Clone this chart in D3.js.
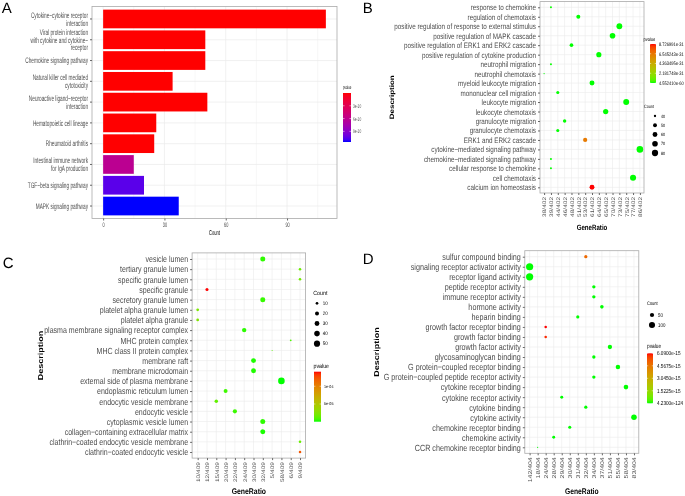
<!DOCTYPE html>
<html>
<head>
<meta charset="utf-8">
<script src="https://cdn.jsdelivr.net/npm/d3@7"></script>
<style>
  body { margin: 0; background: #fff; }
  svg { display: block; will-change: transform; }
  text { font-family: "Liberation Sans", Arial, sans-serif; text-rendering: geometricPrecision; }
</style>
</head>
<body>
<svg width="685" height="496"><defs></defs></svg>
<script>
// ---------- data ----------
// A: KEGG bar chart
const keggTerms = [
  "Cytokine\u2212cytokine receptor\ninteraction",
  "Viral protein interaction\nwith cytokine and cytokine\u2212\nreceptor",
  "Chemokine signaling pathway",
  "Natural killer cell mediated\ncytotoxicity",
  "Neuroactive ligand\u2212receptor\ninteraction",
  "Hematopoietic cell lineage",
  "Rheumatoid arthritis",
  "Intestinal immune network\nfor IgA production",
  "TGF\u2212beta signaling pathway",
  "MAPK signaling pathway"
];
const keggCount = [109, 50, 50, 34, 51, 26, 25, 15, 20, 37];
const keggP = [1.2e-38, 3.3e-20, 4.6e-26, 2.1e-16, 7.4e-14, 5.8e-13, 2.6e-12, 6.2e-10, 1.05e-9, 1.15e-9];
const keggCountTicks = [0, 30, 60, 90];
const keggPBreaks = [3e-10, 6e-10, 9e-10];
const keggPLabels = ["3e-10", "6e-10", "9e-10"];

// B: GO biological process
const bpTerms = [
  "response to chemokine", "regulation of chemotaxis",
  "positive regulation of response to external stimulus", "positive regulation of MAPK cascade",
  "positive regulation of ERK1 and ERK2 cascade", "positive regulation of cytokine production",
  "neutrophil migration", "neutrophil chemotaxis", "myeloid leukocyte migration",
  "mononuclear cell migration", "leukocyte migration", "leukocyte chemotaxis",
  "granulocyte migration", "granulocyte chemotaxis", "ERK1 and ERK2 cascade",
  "cytokine\u2212mediated signaling pathway", "chemokine\u2212mediated signaling pathway",
  "cellular response to chemokine", "cell chemotaxis", "calcium ion homeostasis"
];
const bpRatio = ["39/402", "51/402", "73/402", "70/402", "48/402", "64/402", "39/402", "38/402", "61/402", "44/402",
  "75/402", "65/402", "46/402", "44/402", "53/402", "86/402", "39/402", "39/402", "77/402", "61/402"];
const bpP = [2.1e-33, 5.4e-40, 3.3e-45, 1.7e-42, 6.2e-36, 8.8e-38, 1.2e-33, 4.6e-34, 2.5e-44, 3.9e-34,
  7.1e-51, 1.4e-52, 9.3e-39, 5.8e-38, 6.45e-31, 4.55241e-60, 3.0e-41, 3.0e-41, 2.2e-59, 8.726991e-31];
const bpRatioTicks = ["38/402", "39/402", "44/402", "46/402", "48/402", "51/402", "53/402", "61/402", "64/402",
  "65/402", "70/402", "73/402", "75/402", "77/402", "86/402"];
const bpCountBreaks = [40, 50, 60, 70, 80];
const bpPBreaks = [8.726991e-31, 6.545243e-31, 4.363495e-31, 2.181748e-31, 4.55241e-60];
const bpPLabels = ["8.726991e-31", "6.545243e-31", "4.363495e-31", "2.181748e-31", "4.552410e-60"];

// C: GO cellular component
const ccTerms = [
  "vesicle lumen", "tertiary granule lumen", "specific granule lumen", "specific granule",
  "secretory granule lumen", "platelet alpha granule lumen", "platelet alpha granule",
  "plasma membrane signaling receptor complex", "MHC protein complex", "MHC class II protein complex",
  "membrane raft", "membrane microdomain", "external side of plasma membrane",
  "endoplasmic reticulum lumen", "endocytic vesicle membrane", "endocytic vesicle",
  "cytoplasmic vesicle lumen", "collagen\u2212containing extracellular matrix",
  "clathrin\u2212coated endocytic vesicle membrane", "clathrin\u2212coated endocytic vesicle"
];
const ccRatio = ["32/409", "9/409", "9/409", "12/409", "32/409", "10/409", "10/409", "24/409", "6/409", "5/409",
  "30/409", "30/409", "58/409", "20/409", "15/409", "22/409", "32/409", "32/409", "9/409", "9/409"];
const ccP = [3.2e-6, 1.6e-5, 1.8e-5, 1.41e-4, 4.1e-6, 2.2e-5, 2.4e-5, 2.7e-6, 8.0e-6, 1.1e-5,
  1.5e-6, 1.6e-6, 1.9e-7, 5.3e-6, 1.3e-5, 4.8e-6, 2.9e-6, 1.2e-6, 1.5e-5, 1.22e-4];
const ccRatioTicks = ["10/409", "12/409", "15/409", "20/409", "22/409", "24/409", "30/409", "32/409",
  "5/409", "58/409", "6/409", "9/409"];
const ccCountBreaks = [10, 20, 30, 40, 50];
const ccPBreaks = [1e-4, 5e-5];
const ccPLabels = ["1e-04", "5e-05"];

// D: GO molecular function
const mfTerms = [
  "sulfur compound binding", "signaling receptor activator activity", "receptor ligand activity",
  "peptide receptor activity", "immune receptor activity", "hormone activity", "heparin binding",
  "growth factor receptor binding", "growth factor binding", "growth factor activity",
  "glycosaminoglycan binding", "G protein\u2212coupled receptor binding",
  "G protein\u2212coupled peptide receptor activity", "cytokine receptor binding",
  "cytokine receptor activity", "cytokine binding", "cytokine activity",
  "chemokine receptor binding", "chemokine activity", "CCR chemokine receptor binding"
];
const mfRatio = ["32/404", "142/404", "142/404", "34/404", "34/404", "37/404", "31/404", "24/404", "24/404", "51/404",
  "34/404", "55/404", "34/404", "58/404", "29/404", "32/404", "83/404", "30/404", "28/404", "18/404"];
const mfP = [4.9e-15, 4.23e-124, 1.1e-122, 2.3e-30, 1.5e-28, 3.6e-29, 2.0e-20, 6.09e-15, 5.9e-15, 1.7e-36,
  4.2e-20, 5.5e-45, 1.1e-30, 2.6e-52, 3.4e-30, 8.7e-35, 1.9e-82, 7.3e-38, 2.2e-34, 4.0e-24];
const mfRatioTicks = ["142/404", "18/404", "24/404", "28/404", "29/404", "30/404", "31/404", "32/404",
  "34/404", "37/404", "51/404", "55/404", "58/404", "83/404"];
const mfCountBreaks = [50, 100];
const mfPBreaks = [6.09e-15, 4.5675e-15, 3.045e-15, 1.5225e-15, 4.23e-124];
const mfPLabels = ["6.0900e-15", "4.5675e-15", "3.0450e-15", "1.5225e-15", "4.2300e-124"];

// ---------- drawing ----------
const svg = d3.select("svg");
const defs = svg.select("defs");
const GRID = "#ebebeb", BORDER = "#aaaaaa", TICK = "#666666", AXTXT = "#4d4d4d";

function txt(g, x, y, s, size, sx, opt = {}) {
  return g.append("text")
    .attr("transform", `translate(${x},${y}) scale(${sx},1)` + (opt.rotate ? ` rotate(${opt.rotate})` : ""))
    .attr("font-size", size)
    .attr("text-anchor", opt.anchor || "start")
    .attr("dy", opt.dy || null)
    .attr("font-weight", opt.bold ? "bold" : null)
    .attr("fill", opt.fill || "#000")
    .text(s);
}

function colorbar(g, id, col, dom, box, topIsMax) {
  const grad = defs.append("linearGradient").attr("id", id)
    .attr("x1", 0).attr("x2", 0).attr("y1", topIsMax ? 1 : 0).attr("y2", topIsMax ? 0 : 1);
  d3.range(0, 21).forEach(i => {
    const t = i / 20;
    grad.append("stop").attr("offset", t).attr("stop-color", col(dom[0] + t * (dom[1] - dom[0])));
  });
  g.append("rect").attr("x", box[0]).attr("y", box[2])
    .attr("width", box[1] - box[0]).attr("height", box[3] - box[2])
    .attr("fill", `url(#${id})`);
  return d3.scaleLinear().domain(dom).range(topIsMax ? [box[3], box[2]] : [box[2], box[3]]);
}

function barTicks(g, yScale, breaks, box) {
  const w = (box[1] - box[0]) / 5;
  breaks.forEach(b => {
    const yy = yScale(b);
    g.append("line").attr("x1", box[0]).attr("x2", box[0] + w).attr("y1", yy).attr("y2", yy).attr("stroke", "#fff").attr("stroke-width", 0.5);
    g.append("line").attr("x1", box[1] - w).attr("x2", box[1]).attr("y1", yy).attr("y2", yy).attr("stroke", "#fff").attr("stroke-width", 0.5);
  });
}

// ----- panel A -----
(function () {
  const L = 92, R = 337, T = 6.5, B = 218.5, SX = 0.59;
  const g = svg.append("g");
  const x = d3.scaleLinear().domain([-5.45, 114.45]).range([L, R]);
  const y = d3.scaleBand().domain(keggTerms).range([T, B]).paddingInner(0.1).paddingOuter(0.15);
  const pExt = d3.extent(keggP);
  const col = d3.scaleLinear().domain(pExt).range(["#ff0000", "#0000ff"]).interpolate(d3.interpolateLab);

  g.append("g").selectAll("line").data([15, 45, 75, 105]).join("line")
    .attr("x1", d => x(d)).attr("x2", d => x(d)).attr("y1", T).attr("y2", B)
    .attr("stroke", GRID).attr("stroke-width", 0.4);
  g.append("g").selectAll("line").data(keggCountTicks).join("line")
    .attr("x1", d => x(d)).attr("x2", d => x(d)).attr("y1", T).attr("y2", B)
    .attr("stroke", GRID).attr("stroke-width", 0.7);
  g.append("g").selectAll("line").data(keggTerms).join("line")
    .attr("x1", L).attr("x2", R).attr("y1", d => y(d) + y.bandwidth() / 2).attr("y2", d => y(d) + y.bandwidth() / 2)
    .attr("stroke", GRID).attr("stroke-width", 0.7);

  g.append("g").selectAll("rect").data(keggTerms).join("rect")
    .attr("x", x(0)).attr("y", d => y(d))
    .attr("width", (d, i) => x(keggCount[i]) - x(0)).attr("height", y.bandwidth())
    .attr("fill", (d, i) => col(keggP[i]));

  g.append("rect").attr("x", L).attr("y", T).attr("width", R - L).attr("height", B - T)
    .attr("fill", "none").attr("stroke", BORDER).attr("stroke-width", 0.8);

  const ay = g.append("g").attr("transform", `translate(${L},0)`)
    .call(d3.axisLeft(y).tickSize(2).tickPadding(2));
  ay.select(".domain").remove();
  ay.selectAll("line").attr("stroke", TICK);
  ay.selectAll("text").each(function (d) {
    const t = d3.select(this);
    const lines = d.split("\n");
    const lh = 7.6;
    t.text(null).attr("font-size", 8).attr("fill", AXTXT).attr("dy", null)
      .attr("transform", `scale(${SX},1)`);
    lines.forEach((s, k) => {
      t.append("tspan").attr("x", -4 / SX).attr("y", (k - (lines.length - 1) / 2) * lh).attr("dy", "0.35em").text(s);
    });
  });

  const ax = g.append("g").attr("transform", `translate(0,${B})`)
    .call(d3.axisBottom(x).tickValues(keggCountTicks).tickSize(2).tickPadding(2));
  ax.select(".domain").remove();
  ax.selectAll("line").attr("stroke", TICK);
  ax.selectAll("text").attr("font-size", 6.5).attr("fill", AXTXT).attr("x", 0)
    .attr("transform", `scale(${SX},1)`);

  txt(g, (L + R) / 2, 235, "Count", 7, SX, { anchor: "middle" });

  // legend
  txt(g, 343, 89, "pvalue", 5, 0.57);
  const box = [343, 351, 93, 142];
  const ly = colorbar(g, "gradA", col, pExt, box, false);
  barTicks(g, ly, keggPBreaks, box);
  keggPBreaks.forEach((b, i) => txt(g, 353, ly(b), keggPLabels[i], 5.5, 0.58, { dy: "0.35em", fill: AXTXT }));

  txt(g, 1.7, 13.3, "A", 15, 1);
})();

// ----- dot panels B, C, D -----
function dotPanel(o) {
  const g = svg.append("g");
  const x = d3.scalePoint().domain(o.ticks).range([o.left, o.right]).padding(0.6);
  const y = d3.scalePoint().domain(o.terms).range([o.top, o.bottom]).padding(0.6);
  const counts = o.ratio.map(s => +s.split("/")[0]);
  const cExt = d3.extent(counts);
  const rs = d3.scaleSqrt().domain([0, cExt[1] - cExt[0]]).range([o.r0, o.r1]);
  const rad = c => rs(Math.max(0, c - cExt[0]));
  const pExt = d3.extent(o.p);
  const col = d3.scaleLinear().domain(pExt).range(["#00ff00", "#ff0000"]).interpolate(d3.interpolateLab);

  g.append("g").selectAll("line").data(o.ticks).join("line")
    .attr("x1", d => x(d)).attr("x2", d => x(d)).attr("y1", o.top).attr("y2", o.bottom)
    .attr("stroke", GRID).attr("stroke-width", 0.6);
  g.append("g").selectAll("line").data(o.terms).join("line")
    .attr("x1", o.left).attr("x2", o.right).attr("y1", d => y(d)).attr("y2", d => y(d))
    .attr("stroke", GRID).attr("stroke-width", 0.6);

  g.append("g").selectAll("circle").data(o.terms).join("circle")
    .attr("cx", (d, i) => x(o.ratio[i])).attr("cy", d => y(d))
    .attr("r", (d, i) => rad(counts[i]))
    .attr("fill", (d, i) => col(o.p[i]));

  g.append("rect").attr("x", o.left).attr("y", o.top).attr("width", o.right - o.left).attr("height", o.bottom - o.top)
    .attr("fill", "none").attr("stroke", BORDER).attr("stroke-width", 0.8);

  const ay = g.append("g").attr("transform", `translate(${o.left},0)`)
    .call(d3.axisLeft(y).tickSize(2).tickPadding(2));
  ay.select(".domain").remove();
  ay.selectAll("line").attr("stroke", TICK);
  ay.selectAll("text").attr("font-size", o.yFont).attr("fill", AXTXT)
    .attr("x", -4 / o.sx).attr("transform", `scale(${o.sx},1)`);

  const ax = g.append("g").attr("transform", `translate(0,${o.bottom})`)
    .call(d3.axisBottom(x).tickSize(2));
  ax.select(".domain").remove();
  ax.selectAll("line").attr("stroke", TICK);
  ax.selectAll("text").attr("font-size", o.xFont).attr("fill", AXTXT)
    .attr("x", -4).attr("y", 0).attr("dy", "0.35em").attr("text-anchor", "end")
    .attr("transform", `scale(${o.sx},1) rotate(-90)`);

  txt(g, (o.left + o.right) / 2, o.xTitleY, "GeneRatio", o.titleFont, o.titleSx, { anchor: "middle", bold: true });
  txt(g, o.yTitleX, (o.top + o.bottom) / 2, "Description", o.descFont, o.sx, { anchor: "middle", bold: true, rotate: -90, dy: "0.35em" });

  // count legend
  const cl = o.countLeg;
  txt(g, cl.x, cl.titleY, "Count", cl.titleFont, o.legSx);
  o.countBreaks.forEach((c, i) => {
    const yy = cl.y0 + i * cl.step;
    g.append("circle").attr("cx", cl.keyX).attr("cy", yy).attr("r", rad(c)).attr("fill", "#000");
    txt(g, cl.labelX, yy, c, cl.labelFont, o.legSx, { dy: "0.35em" });
  });

  // pvalue legend
  const pl = o.pLeg;
  txt(g, pl.x, pl.titleY, "pvalue", pl.titleFont, o.legSx);
  const ly = colorbar(g, o.id, col, pExt, pl.box, true);
  barTicks(g, ly, o.pBreaks, pl.box);
  o.pBreaks.forEach((b, i) => txt(g, pl.labelX, ly(b), o.pLabels[i], pl.labelFont, o.legSx, { dy: "0.35em" }));

  txt(g, o.letter[1], o.letter[2], o.letter[0], 15, 1);
}

dotPanel({
  id: "gradB", terms: bpTerms, ratio: bpRatio, p: bpP, ticks: bpRatioTicks,
  countBreaks: bpCountBreaks, pBreaks: bpPBreaks, pLabels: bpPLabels,
  left: 540, right: 644, top: 1.6, bottom: 193, sx: 0.8, legSx: 0.8,
  yFont: 7.9, xFont: 6.5, titleFont: 7.7, titleSx: 0.8, xTitleY: 230, descFont: 8, yTitleX: 392,
  r0: 0.6, r1: 3.3,
  pLeg: { x: 643.5, titleY: 40.5, titleFont: 5, box: [650, 656, 44, 83], labelX: 659, labelFont: 5 },
  countLeg: { x: 644, titleY: 107.5, titleFont: 4.7, keyX: 655, y0: 116, step: 9.25, labelX: 661, labelFont: 4.6 },
  letter: ["B", 362.7, 13.3]
});

dotPanel({
  id: "gradC", terms: ccTerms, ratio: ccRatio, p: ccP, ticks: ccRatioTicks,
  countBreaks: ccCountBreaks, pBreaks: ccPBreaks, pLabels: ccPLabels,
  left: 192.1, right: 305.6, top: 252.9, bottom: 458.1, sx: 0.8, legSx: 0.88,
  yFont: 8.8, xFont: 6.5, titleFont: 8.2, titleSx: 0.84, xTitleY: 494, descFont: 9, yTitleX: 40,
  r0: 0.5, r1: 3.3,
  countLeg: { x: 313.3, titleY: 294.5, titleFont: 6, keyX: 317, y0: 303.3, step: 10.1, labelX: 322.7, labelFont: 5.1 },
  pLeg: { x: 313.5, titleY: 367.5, titleFont: 6, box: [314, 321, 371.7, 421.7], labelX: 324, labelFont: 4.2 },
  letter: ["C", 2.7, 268.3]
});

dotPanel({
  id: "gradD", terms: mfTerms, ratio: mfRatio, p: mfP, ticks: mfRatioTicks,
  countBreaks: mfCountBreaks, pBreaks: mfPBreaks, pLabels: mfPLabels,
  left: 524.8, right: 638.8, top: 250.7, bottom: 453.3, sx: 0.8, legSx: 0.8,
  yFont: 9, xFont: 6.9, titleFont: 8.2, titleSx: 0.82, xTitleY: 494, descFont: 9, yTitleX: 376.7,
  r0: 0.6, r1: 3.6,
  countLeg: { x: 647, titleY: 305.3, titleFont: 5, keyX: 652, y0: 315, step: 10, labelX: 658, labelFont: 5.5 },
  pLeg: { x: 647, titleY: 347.8, titleFont: 6, box: [647, 653, 353.3, 403.3], labelX: 657, labelFont: 5.8 },
  letter: ["D", 362.7, 264]
});
</script>
</body>
</html>
